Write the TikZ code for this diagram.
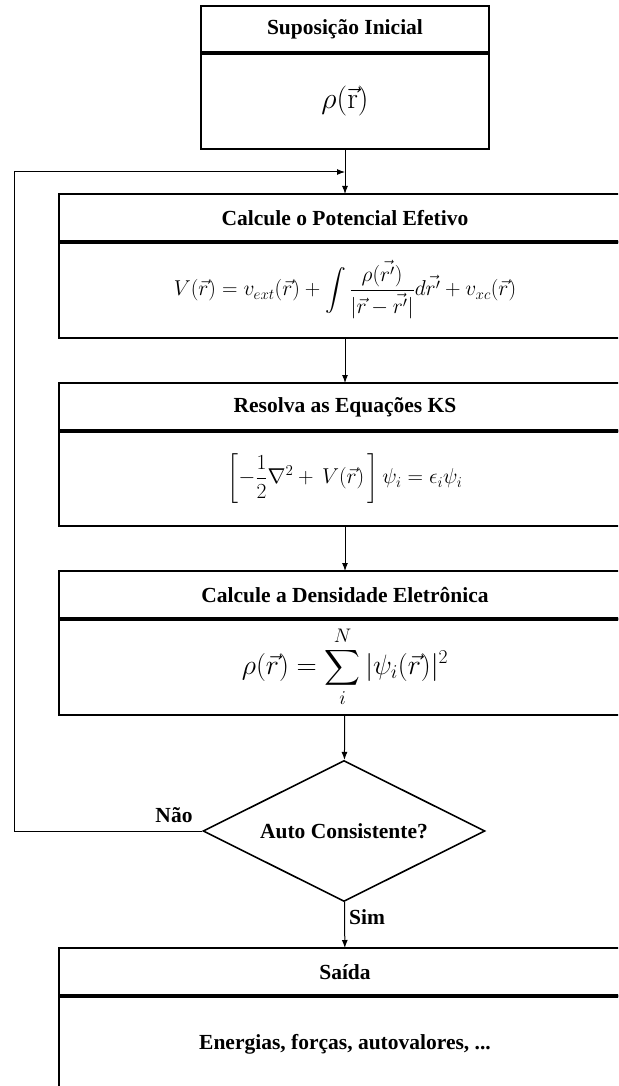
\documentclass[tikz,border=0pt]{standalone}
\usepackage{fix-cm}
\usepackage{amsmath}
\usepackage[no-math]{fontspec}
\setmainfont{Liberation Serif}
\usetikzlibrary{shapes.geometric, arrows.meta}

\tikzset{
    head/.style={draw, line width=2.5pt, outer sep=0pt, inner sep=0pt,
        minimum width=572pt, minimum height=48pt,
        font=\fontsize{21.5}{24}\selectfont\bfseries},
    body/.style={draw, line width=2.5pt, outer sep=0pt, inner sep=0pt,
        minimum width=572pt, minimum height=96pt,
        font=\fontsize{21.5}{24}\selectfont},
    divider/.style={line width=4pt},
    cond/.style={draw, diamond, aspect=2, line width=1.6pt, inner sep=0pt,
        minimum width=282pt, minimum height=141pt,
        font=\fontsize{21.5}{24}\selectfont\bfseries},
    lbl/.style={font=\fontsize{21.5}{24}\selectfont\bfseries},
    arr/.style={line width=1pt, -{Latex[length=8pt,width=6pt]}},
}

\begin{document}
\begin{tikzpicture}[x=1pt,y=-1pt]
    \path[use as bounding box, clip] (0,0) rectangle (618,1086);

    % chute inicial
    \node[head, minimum width=288pt, minimum height=47pt] (init-head) at (345,29.5) {Suposição Inicial};
    \node[body, minimum width=288pt, font=\fontsize{30}{34}\selectfont] (init-body) at (345,101) {$\rho(\vec{\mathrm{r}})$};
    \draw[divider] (init-head.south west) -- (init-head.south east);

    % potencial efetivo
    \node[head] (pot-head) at (345,218) {Calcule o Potencial Efetivo};
    \node[body] (pot-body) at (345,290)
        {$\displaystyle V(\vec{r}) = v_{ext}(\vec{r}) + \int\frac{\rho(\vec{r'})}{|\vec{r}-\vec{r'}|}d\vec{r'} + v_{xc}(\vec{r})$};
    \draw[divider] (pot-head.south west) -- (pot-head.south east);

    % equacoes de Kohn-Sham
    \node[head] (ks-head) at (345,407) {Resolva as Equações KS};
    \node[body, minimum height=95pt] (ks-body) at (345,478.5)
        {$\displaystyle \left[-\frac{1}{2}\nabla^2 + \,V(\vec{r})\,\right]\psi_i = \epsilon_i\psi_i$};
    \draw[divider] (ks-head.south west) -- (ks-head.south east);

    % densidade
    \node[head] (dens-head) at (345,595) {Calcule a Densidade Eletrônica};
    \node[body, font=\fontsize{28}{32}\selectfont] (dens-body) at (345,667)
        {$\displaystyle \rho(\vec{r}) = \sum_{i}^{N}|\psi_i(\vec{r})|^2$};
    \draw[divider] (dens-head.south west) -- (dens-head.south east);

    % teste
    \node[cond] (check) at (344,831) {Auto Consistente?};

    % saida
    \node[head] (out-head) at (345,972) {Saída};
    \node[body, font=\fontsize{21.5}{24}\selectfont\bfseries] (out-body) at (345,1044) {Energias, forças, autovalores, ...};
    \draw[divider] (out-head.south west) -- (out-head.south east);

    \coordinate (join) at (345,172);
    \coordinate (loop) at (14,172);

    \draw[arr] (init-body) -- (pot-head);
    \draw[arr] (pot-body) -- (ks-head);
    \draw[arr] (ks-body) -- (dens-head);
    \draw[arr] (dens-body) -- (check);
    \draw[arr] (check) -- (out-head);
    \draw[arr] (check.west) -| (loop) -- (join);

    \node[lbl] (nao) at (174,815) {Não};
    \node[lbl] (sim) at (367,917) {Sim};
\end{tikzpicture}
\end{document}
